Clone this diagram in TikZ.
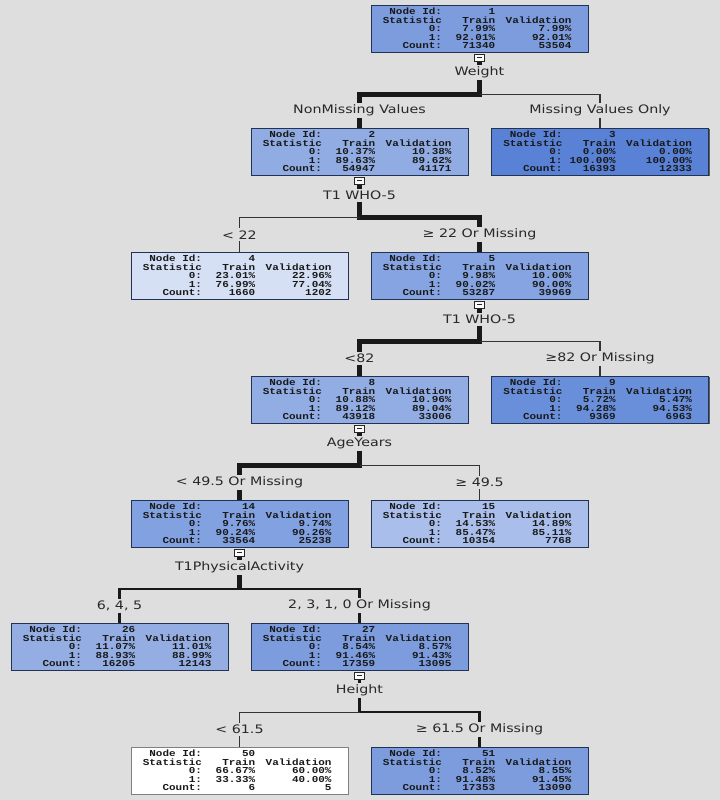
\documentclass[tikz,border=0pt]{standalone}
\usepackage{fontspec}
\newfontfamily\lblfont[FakeStretch=1.22]{DejaVu Sans}
\newfontfamily\statfont[FakeStretch=1.2]{Liberation Mono}
\usepackage{tikz}
\usetikzlibrary{shadows}
\definecolor{bgcol}{RGB}{222,222,222}
\definecolor{nb}{RGB}{82,125,212}
\definecolor{lblcol}{RGB}{40,40,40}
\tikzstyle{tnode}=[draw=nb!40!black, line width=0.4pt, minimum width=5.425cm, minimum height=1.175cm, inner sep=0pt, align=left, text=black!90, font={\statfont\bfseries\fontsize{6.5}{6}\selectfont\lineskiplimit=-10pt}, drop shadow={shadow xshift=1pt, shadow yshift=-1pt, fill=black!75, opacity=0.8}]
\tikzstyle{toggle}=[draw=black!85, fill=white!90!bgcol, line width=0.6pt, minimum width=7pt, minimum height=5.5pt, inner sep=0pt, path picture={\draw[line width=0.5pt] ([xshift=-1.6pt,yshift=0.6pt]path picture bounding box.center) -- ([xshift=1.6pt,yshift=0.6pt]path picture bounding box.center);}]
\tikzstyle{splitlbl}=[font=\lblfont\fontsize{8.3}{9}\selectfont, text=lblcol, inner sep=1.2pt]
\tikzstyle{heavyline}=[line width=3.5pt, black!90]
\tikzstyle{midline}=[line width=1.6pt, black!90]
\tikzstyle{thinline}=[line width=0.9pt, black!80]
\newcommand{\statrow}[3]{\makebox[42.5pt][r]{#1}\makebox[37.8pt][r]{#2}\makebox[58pt][l]{\makebox[54.3pt][r]{#3}}}
\newcommand{\stats}[7]{\statrow{Node Id:}{#1}{}\\ \statrow{Statistic}{Train}{Validation}\\ \statrow{0:}{#2}{#3}\\ \statrow{1:}{#4}{#5}\\ \statrow{Count:}{#6}{#7}}

\begin{document}
\begin{tikzpicture}[x=0.025cm, y=-0.025cm]
\useasboundingbox (0,0) rectangle (720,800);
\fill[bgcol] (0,0) rectangle (720,800);

% tree nodes
\node[tnode, fill=nb!76] (n1) at (479.5,28.5) {\stats{1}{7.99\%}{7.99\%}{92.01\%}{92.01\%}{71340}{53504}};
\node[tnode, fill=nb!64] (n2) at (359.5,151.5) {\stats{2}{10.37\%}{10.38\%}{89.63\%}{89.62\%}{54947}{41171}};
\node[tnode, fill=nb!96] (n3) at (600,151.5) {\stats{3}{0.00\%}{0.00\%}{100.00\%}{100.00\%}{16393}{12333}};
\node[tnode, fill=nb!24] (n4) at (239.5,275.5) {\stats{4}{23.01\%}{22.96\%}{76.99\%}{77.04\%}{1660}{1202}};
\node[tnode, fill=nb!70] (n5) at (479.5,275.5) {\stats{5}{9.98\%}{10.00\%}{90.02\%}{90.00\%}{53287}{39969}};
\node[tnode, fill=nb!63] (n8) at (359.5,399.5) {\stats{8}{10.88\%}{10.96\%}{89.12\%}{89.04\%}{43918}{33006}};
\node[tnode, fill=nb!86] (n9) at (600,399.5) {\stats{9}{5.72\%}{5.47\%}{94.28\%}{94.53\%}{9369}{6963}};
\node[tnode, fill=nb!72] (n14) at (239.5,523.5) {\stats{14}{9.76\%}{9.74\%}{90.24\%}{90.26\%}{33564}{25238}};
\node[tnode, fill=nb!50] (n15) at (479.5,523.5) {\stats{15}{14.53\%}{14.89\%}{85.47\%}{85.11\%}{10354}{7768}};
\node[tnode, fill=nb!62] (n26) at (119.5,646.5) {\stats{26}{11.07\%}{11.01\%}{88.93\%}{88.99\%}{16205}{12143}};
\node[tnode, fill=nb!76] (n27) at (359.5,646.5) {\stats{27}{8.54\%}{8.57\%}{91.46\%}{91.43\%}{17359}{13095}};
\node[tnode, fill=white, draw=black!50] (n50) at (239.5,770.5) {\stats{50}{66.67\%}{60.00\%}{33.33\%}{40.00\%}{6}{5}};
\node[tnode, fill=nb!76] (n51) at (479.5,770.5) {\stats{51}{8.52\%}{8.55\%}{91.48\%}{91.45\%}{17353}{13090}};

% split buttons, variables and bars
\foreach \n/\t in {1/Weight, 2/T1 WHO-5, 5/T1 WHO-5, 8/AgeYears, 14/T1PhysicalActivity, 27/Height} {
	\node[toggle, anchor=north] (b\n) at ([yshift=-1pt]n\n.south) {};
	\node[splitlbl] (s\n) at ([yshift=-0.5cm]n\n.south) {\t};
	\coordinate (j\n) at ([yshift=-1.05cm]n\n.south);
}

% branch conditions
\node[splitlbl] (e2) at ([yshift=0.425cm]n2.north) {NonMissing Values};
\node[splitlbl] (e3) at ([yshift=0.425cm]n3.north) {Missing Values Only};
\node[splitlbl] (e4) at ([yshift=0.425cm]n4.north) {< 22};
\node[splitlbl] (e5) at ([yshift=0.425cm]n5.north) {≥ 22 Or Missing};
\node[splitlbl] (e8) at ([yshift=0.425cm]n8.north) {<82};
\node[splitlbl] (e9) at ([yshift=0.425cm]n9.north) {≥82 Or Missing};
\node[splitlbl] (e14) at ([yshift=0.425cm]n14.north) {< 49.5 Or Missing};
\node[splitlbl] (e15) at ([yshift=0.425cm]n15.north) {≥ 49.5};
\node[splitlbl] (e26) at ([yshift=0.425cm]n26.north) {6, 4, 5};
\node[splitlbl] (e27) at ([yshift=0.425cm]n27.north) {2, 3, 1, 0 Or Missing};
\node[splitlbl] (e50) at ([yshift=0.425cm]n50.north) {< 61.5};
\node[splitlbl] (e51) at ([yshift=0.425cm]n51.north) {≥ 61.5 Or Missing};

% branches
\draw[heavyline] (b1) -- (s1) -- (j1) -| (e2) -- (n2);
\draw[thinline] (j1) -| (e3) -- (n3);
\draw[heavyline] (b2) -- (s2) -- (j2) -| (e5) -- (n5);
\draw[thinline] (j2) -| (e4) -- (n4);
\draw[heavyline] (b5) -- (s5) -- (j5) -| (e8) -- (n8);
\draw[thinline] (j5) -| (e9) -- (n9);
\draw[heavyline] (b8) -- (s8) -- (j8) -| (e14) -- (n14);
\draw[thinline] (j8) -| (e15) -- (n15);
\draw[heavyline] (b14) -- (s14) -- (j14);
\draw[midline] (j14) -| (e26) -- (n26);
\draw[midline] (j14) -| (e27) -- (n27);
\draw[midline] (b27) -- (s27) -- (j27) -| (e51) -- (n51);
\draw[thinline] (j27) -| (e50) -- (n50);
\end{tikzpicture}
\end{document}
